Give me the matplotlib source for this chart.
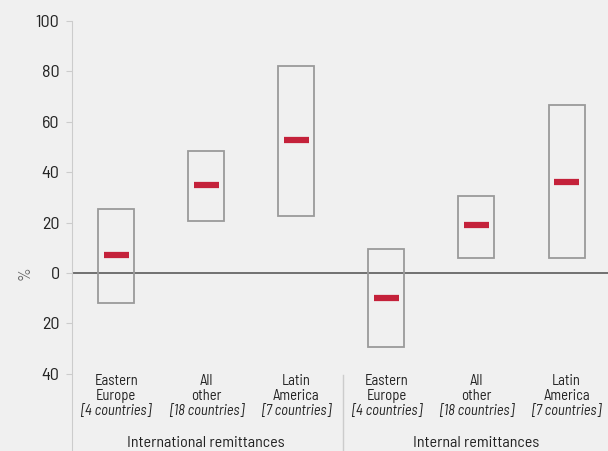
import matplotlib.pyplot as plt
import matplotlib.patches as mpatches
import numpy as np

plt.rcParams['font.family'] = ['Barlow Semi Condensed', 'DejaVu Sans']

regions = ['Eastern\nEurope', 'All\nother', 'Latin\nAmerica'] * 2
counts = ['[4 countries]', '[18 countries]', '[7 countries]'] * 2
groups = ['International remittances', 'Internal remittances']
lows = [-12, 20.6, 22.6, -29.4, 6, 6]
highs = [25.4, 48.4, 82.1, 9.5, 30.6, 66.7]
medians = [7.1, 34.9, 52.8, -9.9, 19, 36.1]

bg = '#f0f0f0'
fig = plt.figure(figsize=(6.08, 4.51), dpi=100, facecolor=bg)
ax = fig.add_axes([72 / 608, 0, 1 - 72 / 608, 430 / 451], facecolor=bg)

x = np.arange(len(lows))
box_w = 0.4
med_w = 0.28
for xi, lo, hi, med in zip(x, lows, highs, medians):
    ax.add_patch(mpatches.Rectangle((xi - box_w / 2, lo), box_w, hi - lo,
                                    fill=False, edgecolor='#9a9a9a', lw=1.3, zorder=2))
    ax.plot([xi - med_w / 2, xi + med_w / 2], [med, med], color='#c4213a',
            lw=4.5, solid_capstyle='butt', zorder=3)

ax.axhline(0, color='#666666', lw=1.3, zorder=1)

ax.set_xlim(-0.49, 5.46)
ax.set_ylim(-70.6, 100)
yt = [-40, -20, 0, 20, 40, 60, 80, 100]
ax.set_yticks(yt)
ax.set_yticklabels([str(abs(v)) for v in yt], fontsize=13, color='#222222')
ax.tick_params(axis='y', length=4, color='#cccccc', pad=5)
ax.set_xticks([])
for s in ['top', 'right', 'bottom']:
    ax.spines[s].set_visible(False)
ax.spines['left'].set_color('#cccccc')
ax.spines['left'].set_bounds(-70.6, 100)

ax.text(-0.49 - 47 / 90, 0, '%', rotation=90, fontsize=12, color='#666666',
        ha='center', va='center')

# category labels
line_y = [-42.9, -48.8, -54.8]
for xi, reg, cnt in zip(x, regions, counts):
    l1, l2 = reg.split('\n')
    ax.text(xi, line_y[0], l1, ha='center', va='center', fontsize=10.5, color='#222222')
    ax.text(xi, line_y[1], l2, ha='center', va='center', fontsize=10.5, color='#222222')
    ax.text(xi, line_y[2], cnt, ha='center', va='center', fontsize=10.5,
            color='#222222', style='italic')

for gi, g in enumerate(groups):
    ax.text(gi * 3 + 1, -67.5, g, ha='center', va='center', fontsize=11.5, color='#222222')

ax.plot([2.52, 2.52], [-40.5, -70.6], color='#cccccc', lw=1, clip_on=False)

fig.savefig('out.png', dpi=100, facecolor=bg)
